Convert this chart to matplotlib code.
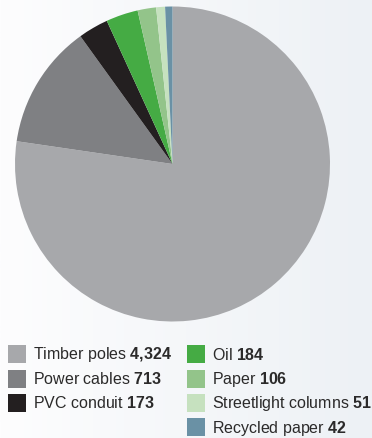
import matplotlib.pyplot as plt
import numpy as np
from matplotlib.patches import Rectangle

plt.rcParams['font.family'] = ['Liberation Sans', 'DejaVu Sans']
plt.rcParams['mathtext.fontset'] = 'custom'
plt.rcParams['mathtext.rm'] = 'Liberation Sans'
plt.rcParams['mathtext.bf'] = 'Liberation Sans:bold'

# Materiaal per categorie
categories = ['Timber poles', 'Power cables', 'PVC conduit', 'Oil', 'Paper',
              'Streetlight columns', 'Recycled paper']
values = [4324, 713, 173, 184, 106, 51, 42]
value_labels = ['4{,}324', '713', '173', '184', '106', '51', '42']
colors = ['#a7a8ab', '#7f8083', '#231f20', '#45ab44', '#93c48a', '#c6e1bf', '#6a91a5']

W, H = 372, 438
fig = plt.figure(figsize=(W / 100, H / 100), dpi=100)

# achtergrond met zachte verloop van wit naar lichtblauw
bg = fig.add_axes([0, 0, 1, 1])
grad = np.linspace(0, 1, 256)[None, :]
bg.imshow(grad, aspect='auto', cmap=plt.matplotlib.colors.LinearSegmentedColormap.from_list(
    'bg', ['#fdfdfe', '#edf1f5']), extent=[0, 1, 0, 1])
bg.set_axis_off()

# taartdiagram
cx, cy, r = 172.5, 164, 157.5
ax = fig.add_axes([(cx - r) / W, 1 - (cy + r) / H, 2 * r / W, 2 * r / H])
ax.pie(values, colors=colors, startangle=90, counterclock=False, radius=1,
       wedgeprops=dict(linewidth=0))
ax.set_xlim(-1, 1)
ax.set_ylim(-1, 1)
ax.set_aspect('equal')
ax.set_axis_off()

# legenda in twee kolommen
cols = [(8, 33), (187, 212)]
rows_y = [354, 378.5, 402.5, 427]
positions = [(0, 0), (0, 1), (0, 2), (1, 0), (1, 1), (1, 2), (1, 3)]
for (c, rw), name, val, col in zip(positions, categories, value_labels, colors):
    sx, tx = cols[c]
    y = rows_y[rw]
    fig.add_artist(Rectangle((sx / W, 1 - (y + 9) / H), 18 / W, 18 / H,
                             transform=fig.transFigure, color=col, lw=0))
    fig.text(tx / W, 1 - (y + 1) / H, name + r' $\mathbf{' + val + '}$',
             fontsize=11.5, color='#2b2a2a', va='center', ha='left')

fig.savefig('out.png', dpi=100)
